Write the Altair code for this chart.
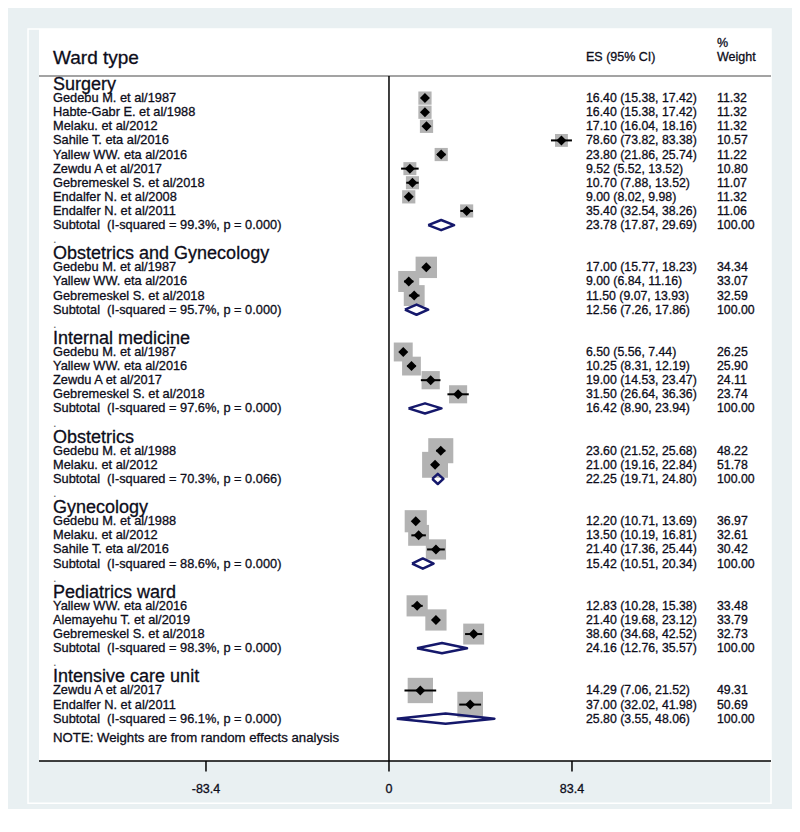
import altair as alt
import pandas as pd

# ---------------- data ----------------
groups = ["Surgery", "Obstetrics and Gynecology", "Internal medicine", "Obstetrics",
          "Gynecology", "Pediatrics ward", "Intensive care unit"]

study_group = [0, 0, 0, 0, 0, 0, 0, 0, 0,
               1, 1, 1,
               2, 2, 2, 2,
               3, 3,
               4, 4, 4,
               5, 5, 5,
               6, 6]
study_label = [
    "Gedebu M. et al/1987", "Habte-Gabr E. et al/1988", "Melaku. et al/2012",
    "Sahile T. eta al/2016", "Yallew WW. eta al/2016", "Zewdu A et al/2017",
    "Gebremeskel S. et al/2018", "Endalfer N. et al/2008", "Endalfer N. et al/2011",
    "Gedebu M. et al/1987", "Yallew WW. eta al/2016", "Gebremeskel S. et al/2018",
    "Gedebu M. et al/1987", "Yallew WW. eta al/2016", "Zewdu A et al/2017",
    "Gebremeskel S. et al/2018",
    "Gedebu M. et al/1988", "Melaku. et al/2012",
    "Gedebu M. et al/1988", "Melaku. et al/2012", "Sahile T. eta al/2016",
    "Yallew WW. eta al/2016", "Alemayehu T. et al/2019", "Gebremeskel S. et al/2018",
    "Zewdu A et al/2017", "Endalfer N. et al/2011",
]
study_es = [16.40, 16.40, 17.10, 78.60, 23.80, 9.52, 10.70, 9.00, 35.40,
            17.00, 9.00, 11.50,
            6.50, 10.25, 19.00, 31.50,
            23.60, 21.00,
            12.20, 13.50, 21.40,
            12.83, 21.40, 38.60,
            14.29, 37.00]
study_lo = [15.38, 15.38, 16.04, 73.82, 21.86, 5.52, 7.88, 8.02, 32.54,
            15.77, 6.84, 9.07,
            5.56, 8.31, 14.53, 26.64,
            21.52, 19.16,
            10.71, 10.19, 17.36,
            10.28, 19.68, 34.68,
            7.06, 32.02]
study_hi = [17.42, 17.42, 18.16, 83.38, 25.74, 13.52, 13.52, 9.98, 38.26,
            18.23, 11.16, 13.93,
            7.44, 12.19, 23.47, 36.36,
            25.68, 22.84,
            13.69, 16.81, 25.44,
            15.38, 23.12, 42.52,
            21.52, 41.98]
study_weight = [11.32, 11.32, 11.32, 10.57, 11.22, 10.80, 11.07, 11.32, 11.06,
                34.34, 33.07, 32.59,
                26.25, 25.90, 24.11, 23.74,
                48.22, 51.78,
                36.97, 32.61, 30.42,
                33.48, 33.79, 32.73,
                49.31, 50.69]

sub_i2 = ["99.3", "95.7", "97.6", "70.3", "88.6", "98.3", "96.1"]
sub_p = ["0.000", "0.000", "0.000", "0.066", "0.000", "0.000", "0.000"]
sub_es = [23.78, 12.56, 16.42, 22.25, 15.42, 24.16, 25.80]
sub_lo = [17.87, 7.26, 8.90, 19.71, 10.51, 12.76, 3.55]
sub_hi = [29.69, 17.86, 23.94, 24.80, 20.34, 35.57, 48.06]

tick_values = [-83.4, 0, 83.4]
tick_labels = ["-83.4", "0", "83.4"]

# ---------------- build tables ----------------
heading_rows, study_rows, sub_rows, dot_rows, dia_rows = [], [], [], [], []
row = 0
for g, name in enumerate(groups):
    heading_rows.append({"row": row, "text": name})
    row += 1
    for i, sg in enumerate(study_group):
        if sg != g:
            continue
        study_rows.append({
            "row": row, "label": study_label[i], "es": study_es[i],
            "lo": study_lo[i], "hi": study_hi[i], "w": study_weight[i],
            "esci": f"{study_es[i]:.2f} ({study_lo[i]:.2f}, {study_hi[i]:.2f})",
            "wtxt": f"{study_weight[i]:.2f}",
        })
        row += 1
    sub_rows.append({
        "row": row,
        "label": f"Subtotal\u00a0 (I-squared = {sub_i2[g]}%, p = {sub_p[g]})",
        "esci": f"{sub_es[g]:.2f} ({sub_lo[g]:.2f}, {sub_hi[g]:.2f})",
        "wtxt": "100.00",
    })
    h = 0.36
    pts = [(sub_lo[g], row), (sub_es[g], row - h), (sub_hi[g], row),
           (sub_es[g], row + h), (sub_lo[g], row)]
    for k, (xv, yv) in enumerate(pts):
        dia_rows.append({"g": g, "k": k, "x": xv, "y": yv})
    row += 1
    if g < len(groups) - 1:
        dot_rows.append({"row": row, "text": "."})
    row += 1

note_row = row - 1 + 0.4

heading_df = pd.DataFrame(heading_rows)
study_df = pd.DataFrame(study_rows)
sub_df = pd.DataFrame(sub_rows)
dot_df = pd.DataFrame(dot_rows)
dia_df = pd.DataFrame(dia_rows)
tick_df = pd.DataFrame({"v": tick_values, "lab": tick_labels})

# ---------------- scales ----------------
X_MIN, X_MAX = -159.5, 174.1
Y_MIN, Y_MAX = -3.9, 48.0
xs = alt.Scale(domain=[X_MIN, X_MAX], nice=False, zero=False)
ys = alt.Scale(domain=[Y_MIN, Y_MAX], nice=False, zero=False, reverse=True)

LABEL_X = -153.1
ES_X = 89.8
W_X = 149.5
FONT = "Liberation Sans"
TXT = "#0d0d1a"
TSTROKE = {"stroke": TXT, "strokeWidth": 0.3}


def X(field):
    return alt.X(field, type="quantitative", scale=xs, axis=None)


def Y(field):
    return alt.Y(field, type="quantitative", scale=ys, axis=None)


def XD(v):
    return alt.XDatum(v, type="quantitative", scale=xs, axis=None)


def YD(v):
    return alt.YDatum(v, type="quantitative", scale=ys, axis=None)


one = pd.DataFrame({"a": [0]})

# frame
frame = alt.Chart(one).mark_rect(fillOpacity=0, stroke="white", strokeWidth=1.5).encode(
    x=XD(-164.5), x2=alt.X2Datum(X_MAX), y=YD(Y_MIN), y2=alt.Y2Datum(51.0))

# header line
hline = alt.Chart(one).mark_rule(color="#a3a3a3", strokeWidth=2).encode(
    x=XD(X_MIN), x2=alt.X2Datum(X_MAX), y=YD(-0.57))

# vertical zero line
vline = alt.Chart(one).mark_rule(color="black", strokeWidth=1.5).encode(
    x=XD(0), y=YD(-0.57), y2=alt.Y2Datum(Y_MAX))

# axis
axis_line = alt.Chart(one).mark_rule(color="black", strokeWidth=1.5).encode(
    x=XD(X_MIN), x2=alt.X2Datum(X_MAX), y=YD(Y_MAX))
ticks = alt.Chart(tick_df).mark_rule(color="black", strokeWidth=1.5).encode(
    x=X("v"), y=YD(Y_MAX), y2=alt.Y2Datum(Y_MAX + 0.75))
tick_text = alt.Chart(tick_df).mark_text(font=FONT, fontSize=12.5, color=TXT,
                                         baseline="middle", align="center", **TSTROKE).encode(
    x=X("v"), y=YD(50.0), text="lab:N")

# header texts
hdr_ward = alt.Chart(one).mark_text(font=FONT, fontSize=19, color=TXT, align="left",
                                    baseline="middle", text="Ward type", **TSTROKE).encode(
    x=XD(LABEL_X), y=YD(-1.84))
hdr_es = alt.Chart(one).mark_text(font=FONT, fontSize=12.5, color=TXT, align="left",
                                  baseline="middle", text="ES (95% CI)", **TSTROKE).encode(
    x=XD(ES_X), y=YD(-1.9))
hdr_pct = alt.Chart(one).mark_text(font=FONT, fontSize=12.5, color=TXT, align="left",
                                   baseline="middle", text="%", **TSTROKE).encode(
    x=XD(W_X), y=YD(-2.9))
hdr_w = alt.Chart(one).mark_text(font=FONT, fontSize=12.5, color=TXT, align="left",
                                 baseline="middle", text="Weight", **TSTROKE).encode(
    x=XD(W_X), y=YD(-1.9))

# labels
headings = alt.Chart(heading_df).mark_text(font=FONT, fontSize=18, color=TXT, align="left",
                                           baseline="middle", dy=1, **TSTROKE).encode(
    x=XD(LABEL_X), y=Y("row"), text="text:N")
dots = alt.Chart(dot_df).mark_text(font=FONT, fontSize=12.8, color="#666666", align="left",
                                   baseline="middle").encode(
    x=XD(LABEL_X), y=Y("row"), text="text:N")
study_lab = alt.Chart(study_df).mark_text(font=FONT, fontSize=12.8, color=TXT, align="left",
                                          baseline="middle", **TSTROKE).encode(
    x=XD(LABEL_X), y=Y("row"), text="label:N")
sub_lab = alt.Chart(sub_df).mark_text(font=FONT, fontSize=12.8, color=TXT, align="left",
                                      baseline="middle", **TSTROKE).encode(
    x=XD(LABEL_X), y=Y("row"), text="label:N")
study_esci = alt.Chart(study_df).mark_text(font=FONT, fontSize=12.3, color=TXT, align="left",
                                           baseline="middle", **TSTROKE).encode(
    x=XD(ES_X), y=Y("row"), text="esci:N")
study_wt = alt.Chart(study_df).mark_text(font=FONT, fontSize=12.3, color=TXT, align="left",
                                         baseline="middle", **TSTROKE).encode(
    x=XD(W_X), y=Y("row"), text="wtxt:N")
sub_esci = alt.Chart(sub_df).mark_text(font=FONT, fontSize=12.3, color=TXT, align="left",
                                       baseline="middle", **TSTROKE).encode(
    x=XD(ES_X), y=Y("row"), text="esci:N")
sub_wt = alt.Chart(sub_df).mark_text(font=FONT, fontSize=12.3, color=TXT, align="left",
                                     baseline="middle", **TSTROKE).encode(
    x=XD(W_X), y=Y("row"), text="wtxt:N")
note = alt.Chart(one).mark_text(font=FONT, fontSize=13.2, color=TXT, align="left",
                                baseline="middle",
                                text="NOTE: Weights are from random effects analysis",
                                **TSTROKE).encode(
    x=XD(LABEL_X), y=YD(note_row))

# study markers
boxes = alt.Chart(study_df).mark_square(color="#b3b3b3", opacity=1, filled=True).encode(
    x=X("es"), y=Y("row"),
    size=alt.Size("w:Q", scale=alt.Scale(domain=[0, 50], range=[36, 650]), legend=None))
ci = alt.Chart(study_df).mark_rule(color="black", strokeWidth=2).encode(
    x=X("lo"), x2="hi:Q", y=Y("row"))
pts = alt.Chart(study_df).mark_point(shape="diamond", filled=True, color="black",
                                     opacity=1, size=100).encode(
    x=X("es"), y=Y("row"))

# subtotal diamonds
diamonds = alt.Chart(dia_df).mark_line(color="#15186b", strokeWidth=2.5,
                                       strokeJoin="round").encode(
    x=X("x"), y=Y("y"), detail="g:N", order="k:Q")

chart = alt.layer(
    frame, hline, vline, axis_line, ticks, tick_text,
    hdr_ward, hdr_es, hdr_pct, hdr_w,
    headings, dots, study_lab, sub_lab, study_esci, study_wt, sub_esci, sub_wt, note,
    boxes, ci, pts, diamonds,
).properties(
    width=732, height=732,
    autosize=alt.AutoSizeParams(type="none"),
    padding={"left": 31, "top": 21, "right": 21, "bottom": 48},
).configure(
    background="#e9f0f2",
).configure_view(
    fill="white", stroke=None,
)

chart.save("out.html", embed_options={"renderer": "svg", "actions": False})
